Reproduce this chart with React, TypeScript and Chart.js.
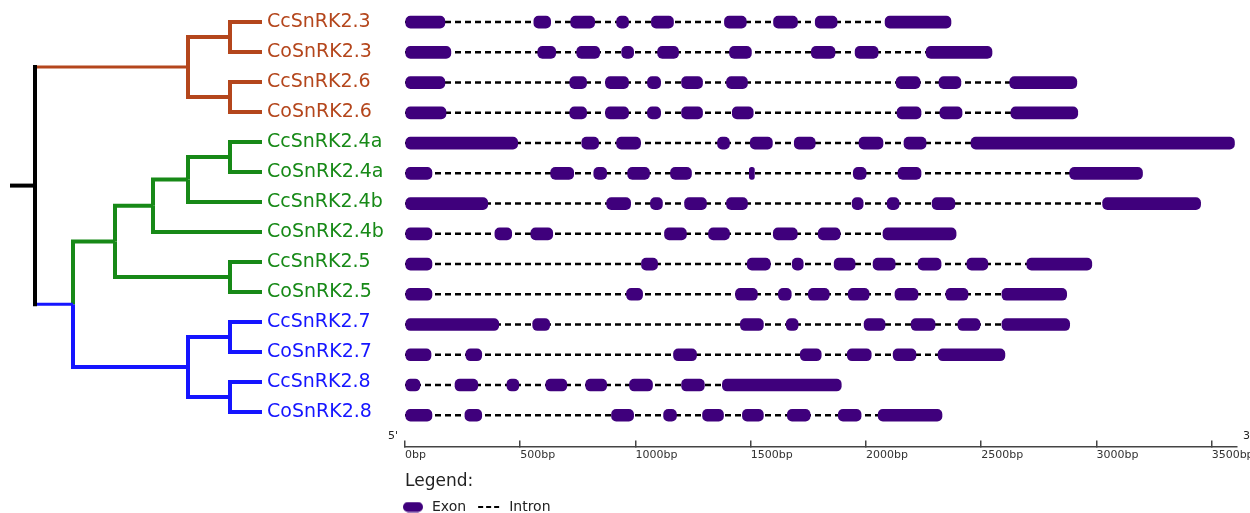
import React, { useEffect, useRef } from 'react';
import { Chart, registerables } from 'chart.js';

Chart.register(...registerables);

// ---------------- data ----------------
const GENES = [
  'CcSnRK2.3', 'CoSnRK2.3', 'CcSnRK2.6', 'CoSnRK2.6',
  'CcSnRK2.4a', 'CoSnRK2.4a', 'CcSnRK2.4b', 'CoSnRK2.4b',
  'CcSnRK2.5', 'CoSnRK2.5', 'CcSnRK2.7', 'CoSnRK2.7',
  'CcSnRK2.8', 'CoSnRK2.8',
];

const ORANGE = '#b4461c';
const GREEN = '#178917';
const BLUE = '#1515ff';
const BLACK = '#000000';
const EXON_COLOR = '#3f007c';
const GENE_COLORS = [
  ORANGE, ORANGE, ORANGE, ORANGE,
  GREEN, GREEN, GREEN, GREEN, GREEN, GREEN,
  BLUE, BLUE, BLUE, BLUE,
];

// exon [start, end] in bp
const EXONS_CcSnRK2_3 = [[0, 173], [559, 632], [719, 823], [918, 970], [1069, 1165], [1386, 1481], [1599, 1703], [1780, 1875], [2083, 2369]];
const EXONS_CoSnRK2_3 = [[0, 199], [576, 654], [745, 845], [940, 992], [1096, 1187], [1408, 1503], [1763, 1866], [1953, 2053], [2261, 2547]];
const EXONS_CcSnRK2_6 = [[0, 173], [715, 788], [870, 970], [1052, 1109], [1200, 1291], [1395, 1486], [2131, 2235], [2317, 2412], [2624, 2915]];
const EXONS_CoSnRK2_6 = [[0, 178], [715, 788], [870, 970], [1052, 1109], [1200, 1291], [1420, 1511], [2135, 2239], [2321, 2417], [2629, 2919]];
const EXONS_CcSnRK2_4a = [[0, 489], [767, 840], [918, 1022], [1356, 1408], [1498, 1594], [1689, 1780], [1970, 2074], [2165, 2261], [2456, 3599]];
const EXONS_CoSnRK2_4a = [[0, 117], [632, 732], [819, 875], [966, 1061], [1152, 1243], [1494, 1516], [1945, 2001], [2139, 2239], [2884, 3200]];
const EXONS_CcSnRK2_4b = [[0, 359], [875, 979], [1065, 1117], [1213, 1308], [1395, 1486], [1940, 1988], [2092, 2144], [2287, 2386], [3027, 3452]];
const EXONS_CoSnRK2_4b = [[0, 117], [390, 463], [546, 641], [1126, 1221], [1317, 1408], [1598, 1702], [1793, 1888], [2074, 2391]];
const EXONS_CcSnRK2_5 = [[0, 117], [1026, 1096], [1485, 1585], [1680, 1728], [1862, 1953], [2031, 2127], [2226, 2326], [2438, 2529], [2698, 2980]];
const EXONS_CoSnRK2_5 = [[0, 117], [961, 1031], [1434, 1529], [1620, 1676], [1750, 1841], [1923, 2014], [2126, 2226], [2347, 2443], [2590, 2871]];
const EXONS_CcSnRK2_7 = [[0, 407], [554, 628], [1455, 1555], [1654, 1706], [1992, 2083], [2196, 2300], [2399, 2495], [2590, 2884]];
const EXONS_CoSnRK2_7 = [[0, 113], [264, 333], [1165, 1265], [1715, 1806], [1919, 2023], [2118, 2217], [2313, 2603]];
const EXONS_CcSnRK2_8 = [[0, 65], [217, 316], [442, 494], [611, 702], [784, 875], [974, 1074], [1200, 1299], [1377, 1893]];
const EXONS_CoSnRK2_8 = [[0, 117], [260, 333], [896, 992], [1122, 1178], [1291, 1382], [1464, 1555], [1659, 1758], [1880, 1979], [2053, 2330]];

const EXONS = [
  EXONS_CcSnRK2_3, EXONS_CoSnRK2_3, EXONS_CcSnRK2_6, EXONS_CoSnRK2_6,
  EXONS_CcSnRK2_4a, EXONS_CoSnRK2_4a, EXONS_CcSnRK2_4b, EXONS_CoSnRK2_4b,
  EXONS_CcSnRK2_5, EXONS_CoSnRK2_5, EXONS_CcSnRK2_7, EXONS_CoSnRK2_7,
  EXONS_CcSnRK2_8, EXONS_CoSnRK2_8,
];

const AXIS_TICKS = [0, 500, 1000, 1500, 2000, 2500, 3000, 3500];
const AXIS_MAX = 3610;
const END_LABELS = ["5'", "3'"];
const LEGEND_TITLE = 'Legend:';
const LEGEND_ITEMS = ['Exon', 'Intron'];

// cladogram: leaves are gene indices, internal nodes carry a depth
type TNode = number | { depth: number; children: TNode[] };
const LEAF_DEPTH = 252;
const STUB_DEPTH = 0;
const TREE: TNode = {
  depth: 25,
  children: [
    { depth: 178, children: [{ depth: 220, children: [0, 1] }, { depth: 220, children: [2, 3] }] },
    {
      depth: 63,
      children: [
        {
          depth: 105,
          children: [
            { depth: 143, children: [{ depth: 178, children: [{ depth: 220, children: [4, 5] }, 6] }, 7] },
            { depth: 220, children: [8, 9] },
          ],
        },
        { depth: 178, children: [{ depth: 220, children: [10, 11] }, { depth: 220, children: [12, 13] }] },
      ],
    },
  ],
};

// ---------------- helpers ----------------
const FONT = '"DejaVu Sans", Verdana, sans-serif';

interface Seg { pts: { x: number; y: number }[]; color: string; width: number; cap: 'butt' | 'square' }

function nodeInfo(n: TNode): { x: number; y: number; color: string } {
  if (typeof n === 'number') return { x: LEAF_DEPTH, y: n, color: GENE_COLORS[n] };
  const ch = n.children.map(nodeInfo);
  const y = (ch[0].y + ch[ch.length - 1].y) / 2;
  const color = ch.every((c) => c.color === ch[0].color) ? ch[0].color : ch[ch.length - 1].color;
  return { x: n.depth, y, color };
}

function buildSegs(n: TNode, isRoot: boolean, segs: Seg[]) {
  if (typeof n === 'number') return;
  const p = nodeInfo(n);
  for (const c of n.children) {
    const ci = nodeInfo(c);
    if (isRoot) {
      segs.push({ pts: [{ x: p.x, y: p.y }, { x: p.x, y: ci.y }], color: BLACK, width: 4, cap: 'square' });
      segs.push({ pts: [{ x: p.x, y: ci.y }, { x: ci.x, y: ci.y }], color: ci.color, width: 3, cap: 'butt' });
    } else {
      segs.push({ pts: [{ x: p.x, y: p.y }, { x: p.x, y: ci.y }, { x: ci.x, y: ci.y }], color: ci.color, width: 4, cap: 'butt' });
    }
    buildSegs(c, false, segs);
  }
}

function makePill(): HTMLCanvasElement {
  const c = document.createElement('canvas');
  c.width = 20;
  c.height = 11;
  const g = c.getContext('2d')!;
  g.fillStyle = EXON_COLOR;
  g.beginPath();
  const r = 5, w = 20, h = 10;
  g.moveTo(r, 0.5);
  g.lineTo(w - r, 0.5);
  g.arc(w - r, r + 0.5, r, -Math.PI / 2, Math.PI / 2);
  g.lineTo(r, h + 0.5);
  g.arc(r, r + 0.5, r, Math.PI / 2, (3 * Math.PI) / 2);
  g.closePath();
  g.fill();
  return c;
}

const endLabelsPlugin = {
  id: 'endLabels',
  afterDraw(chart: any) {
    const x = chart.scales.x;
    const ctx = chart.ctx;
    ctx.save();
    ctx.font = '11px ' + FONT;
    ctx.fillStyle = '#222';
    ctx.textBaseline = 'middle';
    ctx.textAlign = 'right';
    ctx.fillText(END_LABELS[0], x.left - 7, x.top - 10);
    ctx.textAlign = 'left';
    ctx.fillText(END_LABELS[1], x.right + 6, x.top - 10);
    ctx.restore();
  },
};

export default function App() {
  const treeRef = useRef<HTMLCanvasElement>(null);
  const geneRef = useRef<HTMLCanvasElement>(null);

  useEffect(() => {
    // ---- tree chart ----
    const segs: Seg[] = [];
    const root = nodeInfo(TREE);
    segs.push({ pts: [{ x: STUB_DEPTH, y: root.y }, { x: root.x, y: root.y }], color: BLACK, width: 4, cap: 'butt' });
    buildSegs(TREE, true, segs);

    const tree = new Chart(treeRef.current!, {
      type: 'scatter',
      data: {
        datasets: segs.map((s) => ({
          data: s.pts,
          showLine: true,
          borderColor: s.color,
          backgroundColor: s.color,
          borderWidth: s.width,
          borderCapStyle: s.cap,
          borderJoinStyle: 'miter',
          pointRadius: 0,
          pointHoverRadius: 0,
          clip: false,
        })) as any,
      },
      options: {
        responsive: false,
        animation: false,
        events: [],
        layout: { padding: { left: 10, right: 0, top: 7, bottom: 86 } },
        scales: {
          x: { type: 'linear', min: 0, max: LEAF_DEPTH, display: false },
          y: {
            type: 'linear',
            min: -0.5,
            max: GENES.length - 0.5,
            reverse: true,
            position: 'right',
            grid: { display: false, drawTicks: false },
            border: { display: false },
            ticks: {
              autoSkip: false,
              padding: 5,
              font: { family: FONT, size: 19 },
              color: (ctx: any) => GENE_COLORS[ctx.index] || '#000',
              callback: (v: any) => GENES[v as number],
            },
            afterBuildTicks: (s: any) => {
              s.ticks = GENES.map((_, i) => ({ value: i }));
            },
            afterFit: (s: any) => {
              s.width = 138;
              s.paddingTop = 0;
              s.paddingBottom = 0;
            },
          },
        },
        plugins: { legend: { display: false }, tooltip: { enabled: false } },
      } as any,
    });

    // ---- gene structure chart ----
    const exonData: any[] = [];
    EXONS.forEach((ex, i) => ex.forEach(([s, e]) => exonData.push({ x: [s, e], y: i })));

    const intronSets = EXONS.map((ex, i) => ({
      type: 'line',
      data: [{ x: ex[0][0], y: i }, { x: ex[ex.length - 1][1], y: i }],
      borderColor: '#000',
      borderWidth: 2.5,
      borderDash: [6, 4],
      pointRadius: 0,
      pointHoverRadius: 0,
      order: 1,
      clip: false,
    }));

    const pill = makePill();

    const gene = new Chart(geneRef.current!, {
      type: 'bar',
      data: {
        datasets: [
          {
            type: 'bar',
            data: exonData,
            backgroundColor: EXON_COLOR,
            borderColor: EXON_COLOR,
            borderWidth: 0,
            borderRadius: 5,
            borderSkipped: false,
            barThickness: 12,
            order: 0,
          },
          ...intronSets,
        ] as any,
      },
      options: {
        indexAxis: 'y',
        responsive: false,
        animation: false,
        events: [],
        layout: { padding: { left: 9, right: 13, top: 7, bottom: 0 } },
        scales: {
          x: {
            type: 'linear',
            min: 0,
            max: AXIS_MAX,
            position: 'bottom',
            offset: false,
            grid: { display: true, drawOnChartArea: false, drawTicks: true, tickLength: -6, color: '#444', lineWidth: 1.5, offset: false },
            border: { display: true, color: '#444', width: 1.5 },
            ticks: {
              autoSkip: false,
              maxRotation: 0,
              align: 'start',
              padding: 8,
              color: '#333',
              font: { family: FONT, size: 11 },
              callback: (v: any) => v + 'bp',
            },
            afterBuildTicks: (s: any) => {
              s.ticks = AXIS_TICKS.map((v) => ({ value: v }));
            },
            afterFit: (s: any) => {
              s.paddingLeft = 0;
              s.paddingRight = 0;
            },
            title: {
              display: true,
              text: LEGEND_TITLE,
              align: 'start',
              color: '#222',
              font: { family: FONT, size: 17 },
              padding: { top: 2, bottom: -4 },
            },
          },
          y: {
            type: 'linear',
            min: -0.5,
            max: 14.03,
            reverse: true,
            offset: false,
            display: true,
            grid: { display: false, drawTicks: false, offset: false },
            border: { display: false },
            ticks: { display: false },
            afterFit: (s: any) => {
              s.width = 16;
              s.paddingTop = 0;
              s.paddingBottom = 0;
            },
          },
        },
        plugins: {
          tooltip: { enabled: false },
          legend: {
            display: true,
            position: 'bottom',
            align: 'start',
            fullSize: true,
            labels: {
              usePointStyle: true,
              pointStyleWidth: 24,
              padding: 12,
              color: '#222',
              font: { family: FONT, size: 14 },
              generateLabels: () => [
                { text: LEGEND_ITEMS[0], pointStyle: pill, fillStyle: EXON_COLOR, strokeStyle: EXON_COLOR, lineWidth: 0, hidden: false, datasetIndex: 0, fontColor: '#222' },
                { text: LEGEND_ITEMS[1], pointStyle: 'line', fillStyle: '#000', strokeStyle: '#000', lineWidth: 2, lineDash: [5, 3], hidden: false, datasetIndex: 1, fontColor: '#222' },
              ],
            },
          },
        },
      } as any,
      plugins: [endLabelsPlugin],
    });

    return () => {
      tree.destroy();
      gene.destroy();
    };
  }, []);

  return (
    <div style={{ position: 'fixed', left: 0, top: 0, width: 1250, height: 513, overflow: 'hidden', background: '#fff' }}>
      <canvas ref={treeRef} width={400} height={513} style={{ position: 'absolute', left: 0, top: 0 }} />
      <canvas ref={geneRef} width={870} height={524} style={{ position: 'absolute', left: 380, top: 0 }} />
    </div>
  );
}
